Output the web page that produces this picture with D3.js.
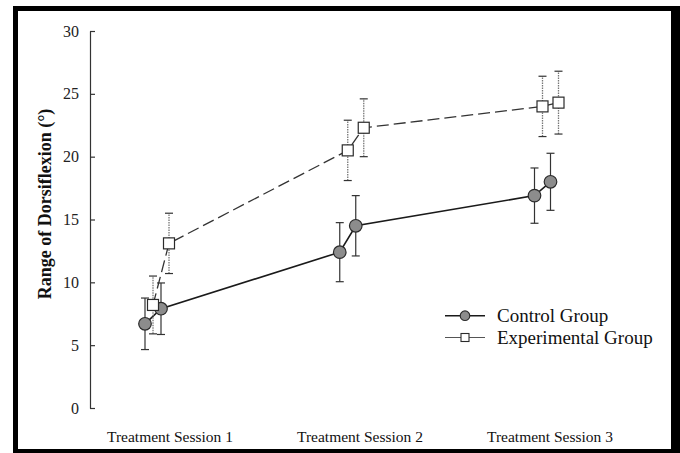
<!doctype html>
<html lang="en">
<head>
<meta charset="UTF-8" />
<title>Range of Dorsiflexion</title>
<script src="https://cdn.jsdelivr.net/npm/d3@7"></script>
<style>
  html, body { margin: 0; padding: 0; background: #fff; }
  svg { display: block; font-family: "Liberation Serif", "Times New Roman", serif; }
</style>
</head>
<body>
<svg id="chart" width="680" height="453"></svg>
<script>
// sessions on the x axis, each with two measurements
const sessions = ["Treatment Session 1", "Treatment Session 2", "Treatment Session 3"];
const yTicks = [0, 5, 10, 15, 20, 25, 30];

const controlMean = [6.7, 7.9, 12.4, 14.5, 16.9, 18.0];
const controlErr  = [2.05, 2.05, 2.35, 2.4, 2.2, 2.27];
const expMean     = [8.2, 13.1, 20.5, 22.3, 24.0, 24.3];
const expErr      = [2.3, 2.4, 2.4, 2.3, 2.4, 2.5];

const groups = [
  { name: "Control Group", mean: controlMean, err: controlErr, shift: 0 },
  { name: "Experimental Group", mean: expMean, err: expErr, shift: 8 }
];

const svg = d3.select("#chart");

// frame
svg.append("rect").attr("x", 13).attr("y", 6).attr("width", 667).attr("height", 447).attr("fill", "#000");
svg.append("rect").attr("x", 18).attr("y", 11).attr("width", 653).attr("height", 438).attr("fill", "#fff");

const y = d3.scaleLinear().domain([0, 30]).range([408, 31]);
const xs = d3.scaleLinear().domain([0, 2]).range([157, 546.5]);
const xl = d3.scalePoint().domain(sessions).range([170, 550]);

// x pixel for measurement k of a group
function px(k, g) {
  return xs(Math.floor(k / 2)) + (k % 2) * 16 - 12 + g.shift;
}

// y axis
const yAxis = svg.append("g")
  .attr("transform", "translate(90,0)")
  .call(d3.axisLeft(y).tickValues(yTicks).tickSizeInner(-5).tickSizeOuter(0).tickPadding(11));
yAxis.attr("font-family", "Liberation Serif").attr("font-size", 16);
yAxis.select(".domain").attr("stroke", "#333").attr("stroke-width", 1.2);
yAxis.selectAll(".tick line").attr("stroke", "#333").attr("stroke-width", 1.2);
yAxis.selectAll(".tick text")
  .style("font-family", "'Liberation Serif', serif")
  .attr("fill", "#222");

svg.append("text")
  .attr("transform", "translate(51,204) rotate(-90)")
  .attr("text-anchor", "middle")
  .attr("font-size", 18)
  .attr("font-weight", "bold")
  .attr("fill", "#111")
  .text("Range of Dorsiflexion (°)");

// x labels
svg.append("g").selectAll("text")
  .data(sessions)
  .join("text")
  .attr("x", d => xl(d))
  .attr("y", 442)
  .attr("text-anchor", "middle")
  .attr("font-size", 15.5)
  .attr("fill", "#111")
  .text(d => d);

// lines
const ctrl = groups[0], expg = groups[1];
const line = g => d3.line().x((d, i) => px(i, g)).y(d => y(d));

svg.append("path")
  .attr("d", line(expg)(expg.mean))
  .attr("fill", "none")
  .attr("stroke", "#333")
  .attr("stroke-width", 1.3)
  .attr("stroke-dasharray", "12,5");

svg.append("path")
  .attr("d", line(ctrl)(ctrl.mean))
  .attr("fill", "none")
  .attr("stroke", "#1a1a1a")
  .attr("stroke-width", 1.6);

// error bars
groups.forEach((g, gi) => {
  const eb = svg.append("g");
  g.mean.forEach((m, k) => {
    const x = px(k, g);
    eb.append("line")
      .attr("x1", x).attr("x2", x)
      .attr("y1", y(m - g.err[k])).attr("y2", y(m + g.err[k]))
      .attr("stroke", gi === 0 ? "#333" : "#777")
      .attr("stroke-width", gi === 0 ? 1.2 : 1.3)
      .attr("stroke-dasharray", gi === 0 ? null : "1.5,1");
    [m - g.err[k], m + g.err[k]].forEach(v => {
      eb.append("line")
        .attr("x1", x - 4).attr("x2", x + 4)
        .attr("y1", y(v)).attr("y2", y(v))
        .attr("stroke", "#333")
        .attr("stroke-width", 1.2);
    });
  });
});

// markers
svg.append("g").selectAll("circle")
  .data(ctrl.mean)
  .join("circle")
  .attr("cx", (d, i) => px(i, ctrl))
  .attr("cy", d => y(d))
  .attr("r", 6.3)
  .attr("fill", "#8c8c8c")
  .attr("stroke", "#2a2a2a")
  .attr("stroke-width", 1.2);

svg.append("g").selectAll("rect")
  .data(expg.mean)
  .join("rect")
  .attr("x", (d, i) => px(i, expg) - 5.5)
  .attr("y", d => y(d) - 5.5)
  .attr("width", 11)
  .attr("height", 11)
  .attr("fill", "#fff")
  .attr("stroke", "#2a2a2a")
  .attr("stroke-width", 1.2);

// legend
const leg = svg.append("g");
leg.append("line").attr("x1", 445).attr("x2", 485).attr("y1", 315.7).attr("y2", 315.7)
  .attr("stroke", "#1a1a1a").attr("stroke-width", 1.6);
leg.append("circle").attr("cx", 465).attr("cy", 315.7).attr("r", 4.8)
  .attr("fill", "#8c8c8c").attr("stroke", "#2a2a2a").attr("stroke-width", 1.1);
leg.append("line").attr("x1", 445).attr("x2", 485).attr("y1", 337.5).attr("y2", 337.5)
  .attr("stroke", "#555").attr("stroke-width", 1.1);
leg.append("rect").attr("x", 461).attr("y", 333.5).attr("width", 8).attr("height", 8)
  .attr("fill", "#fff").attr("stroke", "#2a2a2a").attr("stroke-width", 1.1);

leg.selectAll("text")
  .data(groups)
  .join("text")
  .attr("x", 497)
  .attr("y", (d, i) => 322 + i * 22)
  .attr("font-size", 19)
  .attr("fill", "#111")
  .text(d => d.name);
</script>
</body>
</html>
